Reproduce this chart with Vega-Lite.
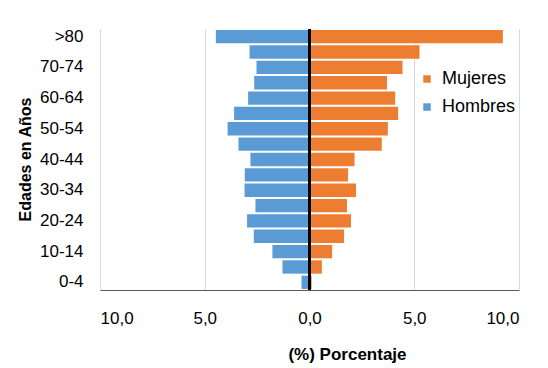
{
  "$schema": "https://vega.github.io/schema/vega-lite/v6.json",
  "width": 419,
  "height": 261,
  "autosize": {"type": "none"},
  "padding": {"left": 100, "top": 29, "right": 29, "bottom": 78},
  "background": "white",
  "config": {"view": {"stroke": null}, "font": "Liberation Sans"},
  "data": {
    "values": [
      {"edad": ">80", "sexo": "Hombres", "porcentaje": -4.47},
      {"edad": "75-79", "sexo": "Hombres", "porcentaje": -2.86},
      {"edad": "70-74", "sexo": "Hombres", "porcentaje": -2.53},
      {"edad": "65-69", "sexo": "Hombres", "porcentaje": -2.64},
      {"edad": "60-64", "sexo": "Hombres", "porcentaje": -2.93},
      {"edad": "55-59", "sexo": "Hombres", "porcentaje": -3.60},
      {"edad": "50-54", "sexo": "Hombres", "porcentaje": -3.91},
      {"edad": "45-49", "sexo": "Hombres", "porcentaje": -3.39},
      {"edad": "40-44", "sexo": "Hombres", "porcentaje": -2.82},
      {"edad": "35-39", "sexo": "Hombres", "porcentaje": -3.09},
      {"edad": "30-34", "sexo": "Hombres", "porcentaje": -3.10},
      {"edad": "25-29", "sexo": "Hombres", "porcentaje": -2.58},
      {"edad": "20-24", "sexo": "Hombres", "porcentaje": -2.98},
      {"edad": "15-19", "sexo": "Hombres", "porcentaje": -2.66},
      {"edad": "10-14", "sexo": "Hombres", "porcentaje": -1.77},
      {"edad": "5-9", "sexo": "Hombres", "porcentaje": -1.29},
      {"edad": "0-4", "sexo": "Hombres", "porcentaje": -0.38},
      {"edad": ">80", "sexo": "Mujeres", "porcentaje": 9.23},
      {"edad": "75-79", "sexo": "Mujeres", "porcentaje": 5.25},
      {"edad": "70-74", "sexo": "Mujeres", "porcentaje": 4.44},
      {"edad": "65-69", "sexo": "Mujeres", "porcentaje": 3.70},
      {"edad": "60-64", "sexo": "Mujeres", "porcentaje": 4.09},
      {"edad": "55-59", "sexo": "Mujeres", "porcentaje": 4.23},
      {"edad": "50-54", "sexo": "Mujeres", "porcentaje": 3.74},
      {"edad": "45-49", "sexo": "Mujeres", "porcentaje": 3.45},
      {"edad": "40-44", "sexo": "Mujeres", "porcentaje": 2.15},
      {"edad": "35-39", "sexo": "Mujeres", "porcentaje": 1.84},
      {"edad": "30-34", "sexo": "Mujeres", "porcentaje": 2.22},
      {"edad": "25-29", "sexo": "Mujeres", "porcentaje": 1.79},
      {"edad": "20-24", "sexo": "Mujeres", "porcentaje": 1.98},
      {"edad": "15-19", "sexo": "Mujeres", "porcentaje": 1.65},
      {"edad": "10-14", "sexo": "Mujeres", "porcentaje": 1.08},
      {"edad": "5-9", "sexo": "Mujeres", "porcentaje": 0.59},
      {"edad": "0-4", "sexo": "Mujeres", "porcentaje": 0.10}
    ]
  },
  "layer": [
    {
      "mark": {"type": "bar"},
      "encoding": {
        "y": {
          "field": "edad",
          "type": "nominal",
          "sort": [">80", "75-79", "70-74", "65-69", "60-64", "55-59", "50-54", "45-49", "40-44", "35-39", "30-34", "25-29", "20-24", "15-19", "10-14", "5-9", "0-4"],
          "scale": {"paddingInner": 0.13, "paddingOuter": 0.065},
          "axis": {
            "values": [">80", "70-74", "60-64", "50-54", "40-44", "30-34", "20-24", "10-14", "0-4"],
            "labelFontSize": 17,
            "labelColor": "black",
            "labelPadding": 17,
            "ticks": false,
            "domain": false,
            "grid": false,
            "title": "Edades en Años",
            "titleFontSize": 16,
            "titleFontWeight": "bold",
            "titleColor": "black",
            "titleX": -75,
            "titleY": 130,
            "titleAngle": 270,
            "titleAlign": "center",
            "titleBaseline": "middle"
          }
        },
        "x": {
          "field": "porcentaje",
          "type": "quantitative",
          "scale": {"domain": [-10, 10], "nice": false},
          "axis": {
            "values": [-10, -5, 0, 5, 10],
            "labelExpr": "replace(format(abs(datum.value), '.1f'), '.', ',')",
            "labelFontSize": 17,
            "labelColor": "black",
            "labelPadding": 20,
            "ticks": false,
            "tickSize": 0,
            "domainColor": "#595959",
            "domainWidth": 1,
            "gridColor": "#D9D9D9",
            "gridWidth": 1,
            "title": "(%) Porcentaje",
            "titleFontSize": 17,
            "titleFontWeight": "bold",
            "titleColor": "black",
            "titleX": 247,
            "titleY": 64,
            "titleAlign": "center",
            "titleBaseline": "middle"
          }
        },
        "color": {
          "field": "sexo",
          "type": "nominal",
          "scale": {"domain": ["Mujeres", "Hombres"], "range": ["#ED7D31", "#5B9BD5"]},
          "legend": {
            "orient": "none",
            "legendX": 318,
            "legendY": 41,
            "title": null,
            "symbolType": "square",
            "symbolSize": 56,
            "symbolStrokeWidth": 0,
            "labelFontSize": 18,
            "labelColor": "black",
            "labelOffset": 6,
            "rowPadding": 10,
            "padding": 0
          }
        }
      }
    },
    {
      "mark": {"type": "rule", "color": "black", "strokeWidth": 1.5},
      "encoding": {"x": {"datum": 0}}
    }
  ]
}
